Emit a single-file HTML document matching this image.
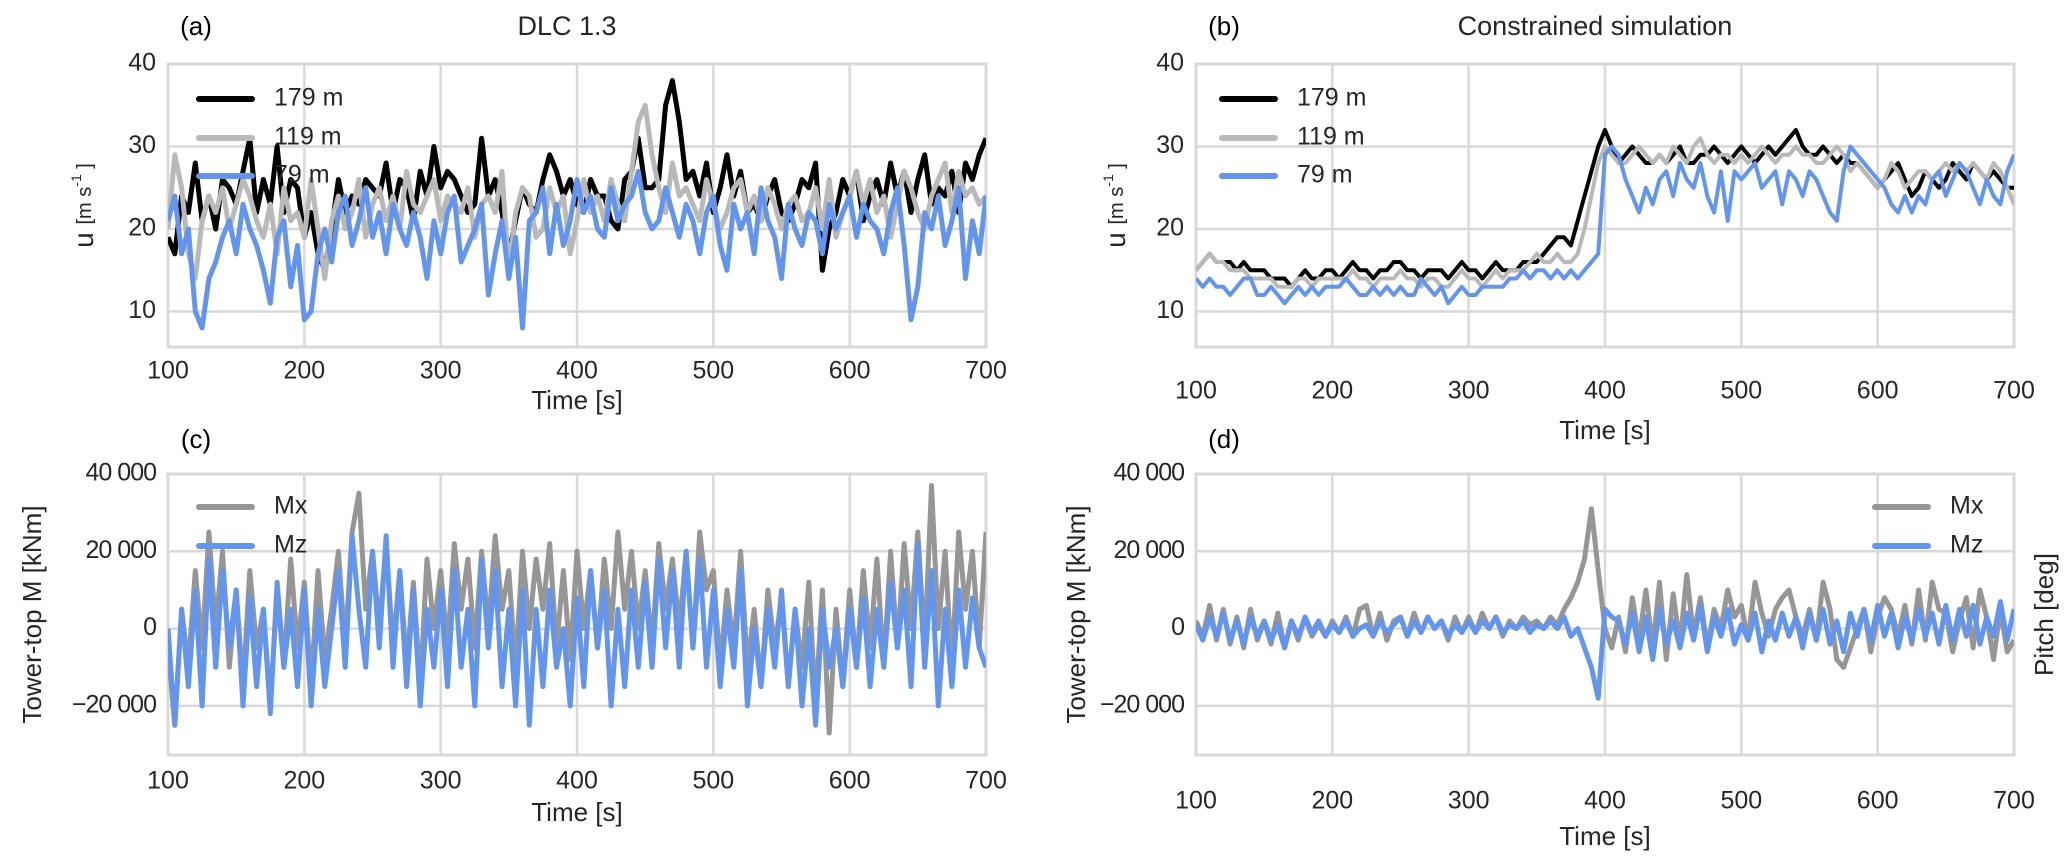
<!DOCTYPE html>
<html><head><meta charset="utf-8"><style>
body{margin:0;background:#fff;}
svg{display:block;font-family:"Liberation Sans",sans-serif;}
</style></head><body>
<svg id="fig" width="2067" height="867" viewBox="0 0 2067 867"></svg>
<script>
const xTicks=[100,200,300,400,500,600,700];
const uTicks=[10,20,30,40];
const mTicks=[-20000,0,20000,40000];
const mTickLabels=["−20 000","0","20 000","40 000"];
const a179=[19,17,24,22,28,21,24,20,26,25,23,27,31,22,26,23,30,22,26,25,19,22,17,15,20,26,22,24,23,26,25,24,28,22,26,25,21,27,24,30,25,27,26,24,22,23,31,24,26,22,17,21,25,23,22,26,29,27,24,26,23,22,26,24,24,21,20,26,27,31,25,25,26,35,38,33,26,27,24,28,22,25,29,24,27,22,23,21,24,26,22,21,23,26,25,28,15,20,22,26,24,27,21,24,26,23,28,24,27,22,26,29,23,25,24,27,22,28,26,29,31];
const a119=[20,29,25,17,14,21,24,22,25,20,23,26,24,21,19,23,17,25,21,22,19,26,20,14,21,24,20,22,26,19,23,25,21,24,20,27,23,22,24,26,21,24,23,22,25,19,23,24,22,27,15,22,25,24,19,20,25,22,24,17,21,26,22,24,21,26,23,21,27,33,35,29,25,22,28,24,25,23,21,26,23,20,22,25,26,22,24,21,25,23,20,23,24,21,22,25,20,26,19,22,24,27,23,26,22,24,19,23,27,25,22,20,24,26,28,22,27,24,25,23,24];
const a79=[21,24,17,20,10,8,14,16,19,21,17,23,20,18,15,11,19,21,13,18,9,10,17,20,16,22,24,18,21,25,19,22,17,23,20,18,22,19,14,21,17,22,24,16,18,20,23,12,17,21,14,19,8,21,22,25,17,23,18,21,26,22,24,20,19,25,21,23,24,27,22,20,21,25,22,19,23,21,17,22,24,18,15,23,20,22,17,25,21,19,14,23,20,18,22,21,17,23,20,22,24,19,23,21,20,17,22,25,18,9,13,22,20,24,18,21,25,14,21,17,24];
const b179=[15,16,17,16,16,16,15,16,15,15,15,14,14,14,13,14,15,14,14,15,15,14,15,16,15,15,14,15,15,16,16,15,15,14,15,15,15,14,15,16,15,15,14,15,16,15,15,15,16,16,16,17,18,19,19,18,21,24,27,30,
32,30,28,29,30,29,28,28,29,28,29,30,28,28,29,29,30,29,28,29,30,29,28,29,30,29,30,31,32,30,29,29,30,29,28,29,28,28,27,26,25,26,27,28,26,24,25,27,26,25,26,28,27,26,28,27,26,27,26,25,25];
const b119=[15,16,17,16,16,15,15,15,14,14,14,14,13,13,13,14,14,13,14,14,14,14,14,15,14,14,13,14,14,14,15,14,14,13,14,14,13,13,14,15,14,14,13,14,15,14,15,15,15,16,17,16,16,17,16,16,17,20,24,28,
30,29,28,28,29,30,29,28,29,28,30,29,28,30,31,29,28,29,29,28,29,28,29,30,29,28,29,29,30,29,29,28,28,29,30,29,27,28,27,26,25,26,28,27,25,26,27,27,26,27,28,27,28,27,28,27,26,28,27,25,23];
const b79=[14,13,14,13,13,12,13,14,14,12,12,13,12,11,12,13,12,13,12,13,13,13,14,13,12,12,13,12,13,12,13,12,12,14,13,12,13,11,12,13,12,12,13,13,13,13,14,14,15,14,15,15,14,15,14,15,14,15,16,17,
29,30,29,26,24,22,25,23,26,27,24,28,26,25,28,24,22,27,21,27,26,27,28,25,26,27,23,27,26,24,27,26,24,22,21,27,30,29,28,27,26,25,23,22,24,22,24,23,26,27,24,26,28,27,25,23,26,24,23,27,29];
const cMx=[-5,-25,5,-10,15,-5,25,0,20,-10,10,-15,15,-5,5,-20,10,-10,18,-5,12,-15,15,-8,5,20,-5,25,35,5,20,0,22,-5,15,-10,12,-15,18,0,15,-5,22,5,18,-5,20,0,24,5,15,-10,20,0,18,5,22,-5,15,-8,20,0,15,-5,18,0,25,5,20,0,15,-5,22,5,18,0,20,-5,25,10,15,-10,10,-5,20,-10,5,-15,10,-5,8,-15,5,-10,12,-20,10,-27,5,-15,10,-10,15,-5,18,-10,20,-5,22,0,25,-5,37,0,20,-10,25,5,20,-5,25];
const cMz=[0,-25,5,-15,10,-20,18,-10,15,-5,10,-20,8,-15,5,-22,12,-10,5,-15,10,-20,5,-15,0,15,-10,24,5,-10,20,-5,24,-10,15,-15,10,-20,5,-10,10,-15,15,-10,5,-20,18,-5,15,-15,5,-20,10,-25,5,-15,10,-10,0,-20,8,-15,15,-5,10,-20,5,-15,10,-10,12,-10,18,-5,15,-10,20,-5,18,-10,10,-15,5,-10,15,-20,0,-15,5,-10,10,-15,5,-20,0,-25,5,-10,0,-15,5,-10,8,-15,5,-10,12,-5,10,-15,22,-10,15,-20,5,-15,10,-10,8,-5,-10];
const dMx=[2,-2,6,-3,5,-4,3,-5,5,-3,2,-4,4,-5,2,-3,3,-2,1,-2,2,-1,3,-2,5,6,-2,4,-3,2,3,-2,4,-1,3,0,2,-3,3,-1,3,-1,4,0,3,-2,2,0,3,1,2,0,3,1,5,8,12,18,31,15,0,-5,3,-6,8,-3,10,-5,12,-8,9,-4,14,-2,8,-5,5,0,10,3,6,-3,12,4,-2,5,8,10,3,-2,5,-3,12,5,-8,-10,-5,0,5,-6,3,8,5,-2,6,-4,10,-3,12,5,4,-6,2,8,-5,10,3,-8,5,-6,-3];
const dMz=[1,-3,3,-2,4,-3,2,-4,3,-2,2,-3,1,-5,2,-2,3,-1,2,-2,1,-1,2,-2,0,1,-2,2,-1,1,3,-2,2,-1,3,0,2,-2,1,-1,2,-1,2,0,3,-1,1,0,2,-1,1,0,2,0,3,-2,0,-5,-10,-18,5,3,2,-4,4,-6,3,-8,5,-4,2,-5,4,-3,6,-6,3,-2,5,-4,1,-3,4,-6,2,-3,4,-2,3,-5,4,-3,5,-4,2,-6,4,-2,5,-3,6,-2,4,-5,3,-3,5,-2,4,-4,6,-3,5,-2,6,-4,3,-2,7,-3,5];

const NS="http://www.w3.org/2000/svg";
const svg=document.getElementById('fig');
function el(tag,attrs,parent,text){const e=document.createElementNS(NS,tag);for(const k in attrs)e.setAttribute(k,attrs[k]);if(text!==undefined)e.textContent=text;(parent||svg).appendChild(e);return e;}

function panel(cfg){
  const g=el('g',{});
  
  
  const X=v=>cfg.x0+(v-100)/600*(cfg.x1-cfg.x0);
  const Y=v=>cfg.yTop+(cfg.yMax-v)/(cfg.yMax-cfg.yMin)*(cfg.yBot-cfg.yTop);
  xTicks.forEach(t=>{
    const l=el('line',{x1:X(t),x2:X(t),y1:cfg.yTop,y2:cfg.yBot,stroke:'#d9d9d9','stroke-width':2.5},g);
    
    
    const tx=el('text',{x:X(t),y:cfg.xLabY,'font-size':25,fill:'#262626','text-anchor':'middle','dominant-baseline':'middle'},g,String(t));
    
    
  });
  cfg.yTicks.forEach((t,i)=>{
    const l=el('line',{x1:cfg.x0,x2:cfg.x1,y1:Y(t),y2:Y(t),stroke:'#d9d9d9','stroke-width':2.5},g);
    
    
    const tx=el('text',{x:cfg.x0-12,y:Y(t),'font-size':25,fill:'#262626','text-anchor':'end','dominant-baseline':'middle','letter-spacing':cfg.tickLS||0},g,cfg.yTickLabels[i]);
    
    
  });
  const fr=el('rect',{x:cfg.x0,y:cfg.yTop,width:cfg.x1-cfg.x0,height:cfg.yBot-cfg.yTop,fill:'none',stroke:'#d9d9d9','stroke-width':3},g);
  
  
  const clipId='clip'+cfg.name;
  const cp=el('clipPath',{id:clipId},g);
  el('rect',{x:cfg.x0,y:cfg.yTop,width:cfg.x1-cfg.x0,height:cfg.yBot-cfg.yTop},cp);
  cfg.series.forEach(s=>{
    const n=s.data.length;
    const pts=s.data.map((v,i)=>X(100+i*600/(n-1)).toFixed(1)+','+Y(v).toFixed(1)).join(' ');
    const p=el('polyline',{points:pts,fill:'none',stroke:s.color,'stroke-width':s.w,'stroke-linejoin':'round','clip-path':'url(#'+clipId+')'},g);
    
    
  });
  cfg.series.forEach((s,i)=>{
    const ly=cfg.legY[i];
    const ll=el('line',{x1:cfg.legX,x2:cfg.legX+53,y1:ly,y2:ly,stroke:s.color,'stroke-width':6,'stroke-linecap':'round'},g);
    
    
    const lt=el('text',{x:cfg.legX+75,y:ly,'font-size':25,fill:'#262626','dominant-baseline':'middle','xml:space':'preserve'},g,s.label);
    
    
  });
  const xl=el('text',{x:(cfg.x0+cfg.x1)/2,y:cfg.xTitleY,'font-size':26,fill:'#262626','text-anchor':'middle','dominant-baseline':'middle'},g,'Time [s]');
  
  
  const yc=(cfg.yTop+cfg.yBot)/2;
  const yl=el('text',{x:cfg.yTitleX,y:yc,'font-size':26,fill:'#262626','text-anchor':'middle','dominant-baseline':'middle',transform:'rotate(-90 '+cfg.yTitleX+' '+yc+')'},g);
  
  
  if(cfg.units){
    el('tspan',{'font-size':28},yl,'u  ');
    el('tspan',{'font-size':20},yl,'[m s');
    el('tspan',{'font-size':14,dy:-9},yl,'-1');
    el('tspan',{'font-size':20,dy:9},yl,' ]');
  } else yl.textContent=cfg.yTitle;
  const pl=el('text',{x:cfg.x0+28,y:cfg.labY,'font-size':26,fill:'#000','text-anchor':'middle','dominant-baseline':'middle'},g,cfg.panelLabel);
  
  
  if(cfg.title){
    const t=el('text',{x:(cfg.x0+cfg.x1)/2-10,y:cfg.labY,'font-size':27,fill:'#262626','text-anchor':'middle','dominant-baseline':'middle'},g,cfg.title);
    
    
  }
  if(cfg.right){
    const rx=2046;
    const rt=el('text',{x:rx,y:yc,'font-size':26,fill:'#262626','text-anchor':'middle','dominant-baseline':'middle',transform:'rotate(-90 '+rx+' '+yc+')'},g,cfg.right);
    
    
  }
}
const uLabels=uTicks.map(String);
panel({name:'panel-a',x0:168,x1:986,yTop:64,yBot:347,yMin:5.7,yMax:40,yTicks:uTicks,yTickLabels:uLabels,xLabY:372,xTitleY:402,yTitleX:86,units:true,panelLabel:'(a)',title:'DLC 1.3',labY:28,
  legX:199,legY:[99,138,176],
  series:[{label:'179 m',data:a179,color:'#000',w:5},{label:'119 m',data:a119,color:'#b9b9b9',w:5},{label:'79 m',data:a79,color:'#6495ed',w:5}]});
panel({name:'panel-b',x0:1196,x1:2014,yTop:64,yBot:347,yMin:5.7,yMax:40,yTicks:uTicks,yTickLabels:uLabels,xLabY:392,xTitleY:432,yTitleX:1118,units:true,panelLabel:'(b)',title:'Constrained simulation',labY:28,
  legX:1222,legY:[99,138,176],
  series:[{label:'179  m',data:b179,color:'#000',w:4},{label:'119  m',data:b119,color:'#b9b9b9',w:4},{label:'79  m',data:b79,color:'#6495ed',w:4}]});
panel({name:'panel-c',x0:168,x1:986,yTop:474,yBot:755,yMin:-32700,yMax:40000,yTicks:mTicks,yTickLabels:mTickLabels,tickLS:-1,xLabY:782,xTitleY:814,yTitleX:34,yTitle:'Tower-top M [kNm]',panelLabel:'(c)',labY:441,
  legX:199,legY:[507,546],
  series:[{label:'Mx',data:cMx.map(v=>v*1000),color:'#969696',w:5},{label:'Mz',data:cMz.map(v=>v*1000),color:'#6495ed',w:5}]});
panel({name:'panel-d',x0:1196,x1:2014,yTop:474,yBot:755,yMin:-32700,yMax:40000,yTicks:mTicks,yTickLabels:mTickLabels,tickLS:-1,xLabY:802,xTitleY:838,yTitleX:1078,yTitle:'Tower-top M [kNm]',panelLabel:'(d)',labY:441,right:'Pitch [deg]',
  legX:1875,legY:[507,546],
  series:[{label:'Mx',data:dMx.map(v=>v*1000),color:'#969696',w:5},{label:'Mz',data:dMz.map(v=>v*1000),color:'#6495ed',w:5}]});
</script>
</body></html>
